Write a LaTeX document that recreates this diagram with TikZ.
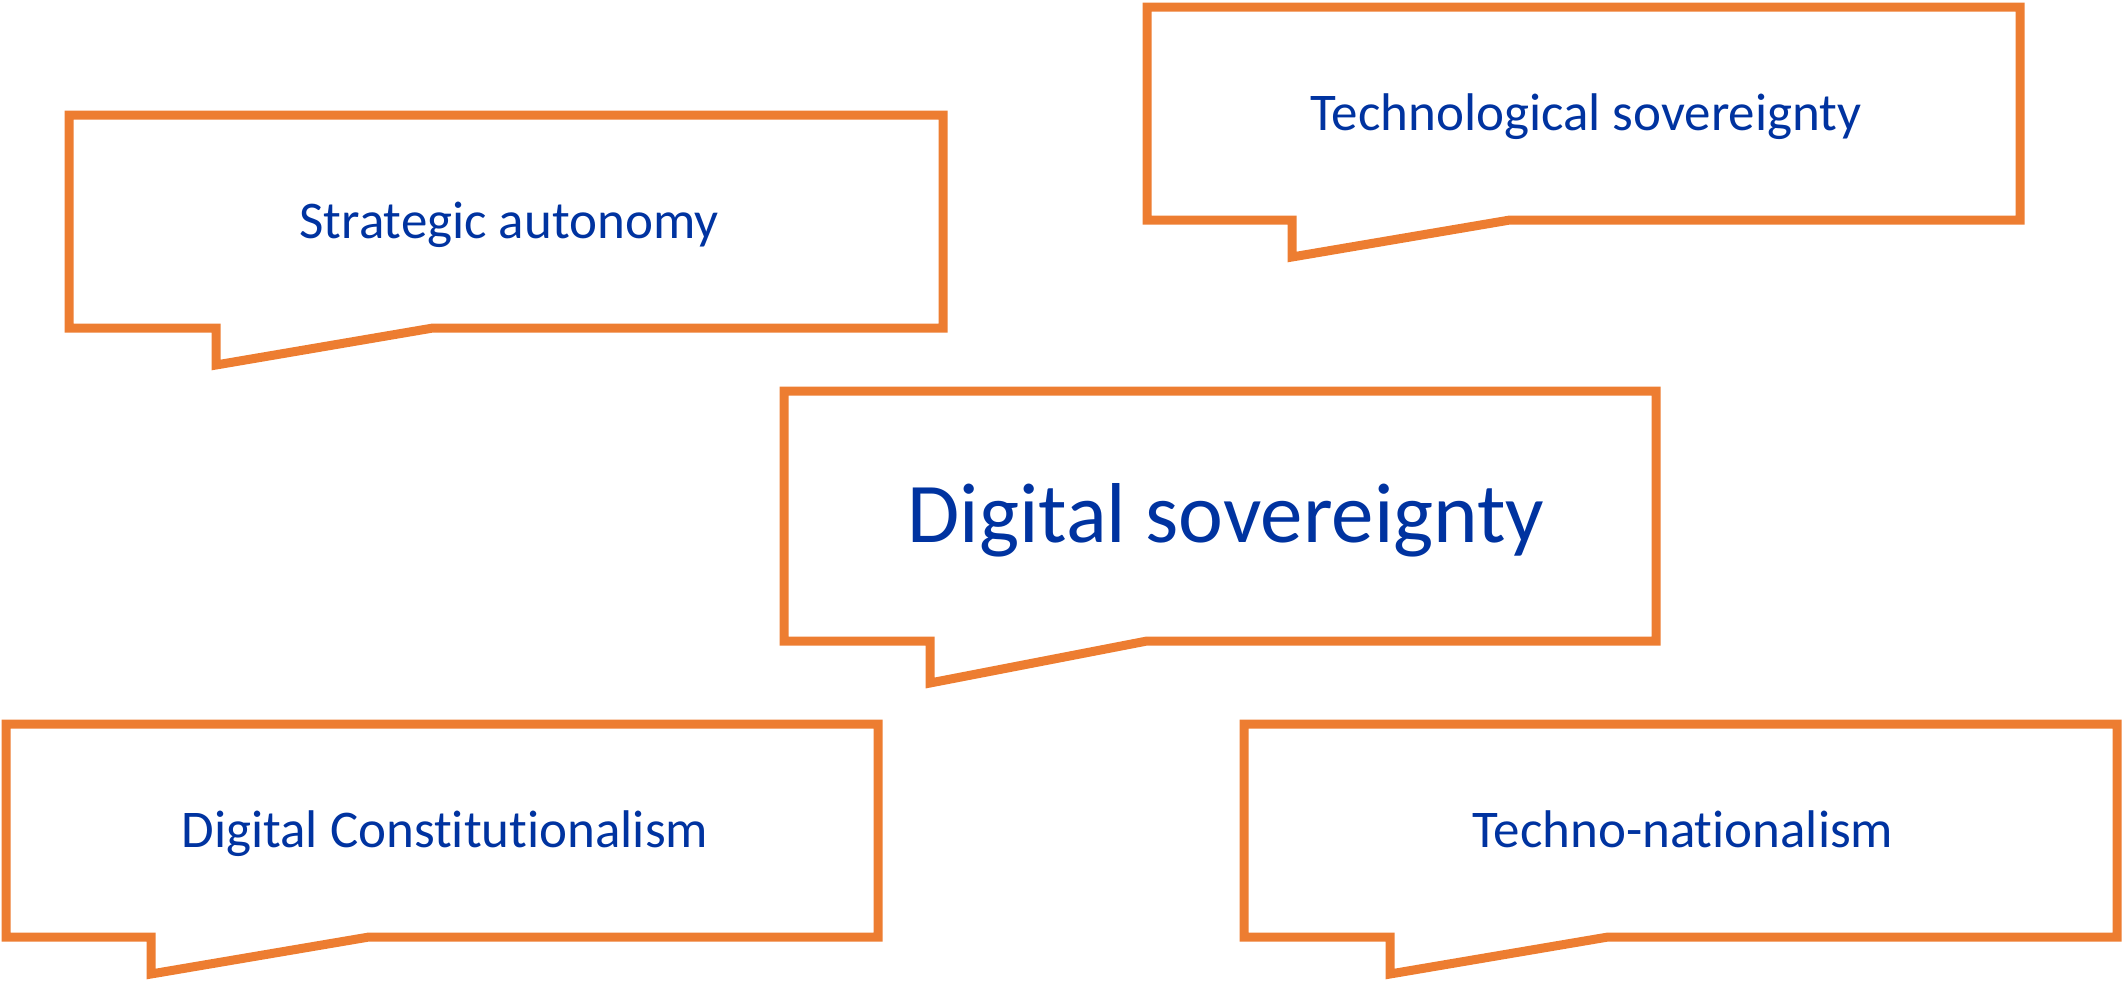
\documentclass[tikz,border=0pt]{standalone}
\usepackage{fontspec}
\setmainfont{Carlito}[Ligatures=NoCommon]
\usepackage{xcolor}
\usepackage{tikz}
\usetikzlibrary{positioning}

\definecolor{bubbleorange}{RGB}{237,125,49}
\definecolor{termblue}{RGB}{0,51,160}

\tikzset{
    bubble/.style={draw=bubbleorange, line width=9pt, line join=miter},
    term/.style={text=termblue, anchor=base, inner sep=0pt, font=\fontsize{53}{63}\selectfont},
    mainterm/.style={term, font=\fontsize{85}{100}\selectfont}
}

\begin{document}
\begin{tikzpicture}[x=1pt, y=-1pt]
    \useasboundingbox (0,0) rectangle (2127,980);

    % Strategic autonomy
    \draw [bubble] (69,115) -- (943,115) -- (943,328) -- (433,328) -- (216,365) -- (216,328) -- (69,328) -- cycle;
    \node [term] (strat) at (509,238) {Strategic autonomy};

    % Technological sovereignty
    \draw [bubble] (1147,7) -- (2020,7) -- (2020,220) -- (1510,220) -- (1292,257) -- (1292,220) -- (1147,220) -- cycle;
    \node [term] (techsov) at (1586,130) {Technological sovereignty};

    % Digital sovereignty (centre)
    \draw [bubble] (784,391) -- (1656,391) -- (1656,641) -- (1147,641) -- (930,683) -- (930,641) -- (784,641) -- cycle;
    \node [mainterm] (digsov) at (1226,542) {Digital sovereignty};

    % Digital Constitutionalism
    \draw [bubble] (6,724) -- (878,724) -- (878,937) -- (369,937) -- (151,974) -- (151,937) -- (6,937) -- cycle;
    \node [term] (digcon) at (445,847) {Digital Constitutionalism};

    % Techno-nationalism
    \draw [bubble] (1244,724) -- (2117,724) -- (2117,937) -- (1608,937) -- (1390,974) -- (1390,937) -- (1244,937) -- cycle;
    \node [term] (technat) at (1683,847) {Techno-nationalism};
\end{tikzpicture}
\end{document}
